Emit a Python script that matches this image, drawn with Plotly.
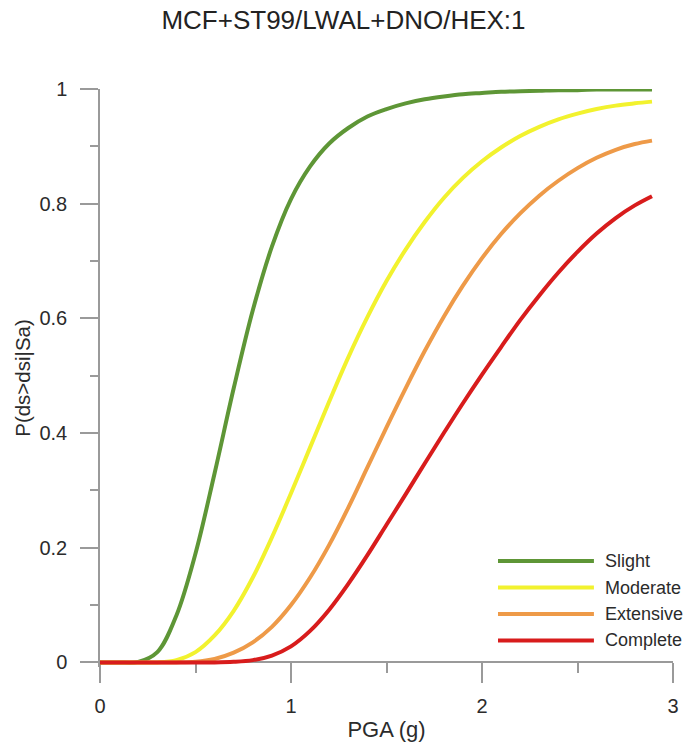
import plotly.graph_objects as go

# ---------------- data ----------------
pga = [0.0, 0.1, 0.2, 0.3, 0.4, 0.5, 0.6, 0.7, 0.8, 0.9, 1.0, 1.1, 1.2, 1.3, 1.4,
       1.5, 1.6, 1.7, 1.8, 1.9, 2.0, 2.1, 2.2, 2.3, 2.4, 2.5, 2.6, 2.7, 2.8, 2.89]

slight = [0.0, 0.0, 0.001, 0.018, 0.082, 0.19, 0.33, 0.478, 0.614, 0.725, 0.808,
          0.865, 0.905, 0.932, 0.952, 0.965, 0.975, 0.982, 0.987, 0.991, 0.993,
          0.995, 0.996, 0.997, 0.998, 0.998, 0.999, 0.999, 0.999, 0.999]

moderate = [0.0, 0.0, 0.0, 0.0, 0.004, 0.018, 0.047, 0.09, 0.148, 0.218, 0.295,
            0.375, 0.455, 0.532, 0.602, 0.665, 0.72, 0.768, 0.81, 0.845, 0.874,
            0.898, 0.918, 0.934, 0.947, 0.957, 0.965, 0.971, 0.975, 0.978]

extensive = [0.0, 0.0, 0.0, 0.0, 0.0, 0.001, 0.006, 0.017, 0.035, 0.062, 0.10,
             0.148, 0.205, 0.27, 0.34, 0.41, 0.478, 0.543, 0.603, 0.657, 0.705,
             0.747, 0.783, 0.814, 0.84, 0.862, 0.88, 0.894, 0.904, 0.910]

complete = [0.0, 0.0, 0.0, 0.0, 0.0, 0.0, 0.0, 0.001, 0.004, 0.012, 0.028, 0.055,
            0.092, 0.137, 0.187, 0.24, 0.293, 0.347, 0.40, 0.452, 0.502, 0.55,
            0.597, 0.64, 0.68, 0.716, 0.748, 0.775, 0.797, 0.813]

series_names = ["Slight", "Moderate", "Extensive", "Complete"]
series_values = [slight, moderate, extensive, complete]
series_colors = ["#5E9636", "#F2F22E", "#EE9A48", "#D81C1C"]

x_tickvals = [0, 1, 2, 3]
y_tickvals = [0, 0.2, 0.4, 0.6, 0.8, 1]
y_ticktext = ["0", "0.2", "0.4", "0.6", "0.8", "1"]

title_text = "MCF+ST99/LWAL+DNO/HEX:1"
x_title = "PGA (g)"
y_title = "P(ds>dsi|Sa)"

# ---------------- figure ----------------
FONT = "Liberation Sans, Arial, sans-serif"
AXIS_COLOR = "#9a9a9a"
TEXT_COLOR = "#2b2b2b"

fig = go.Figure()
for name, vals, col in zip(series_names, series_values, series_colors):
    fig.add_trace(go.Scatter(
        x=pga, y=vals, mode="lines", name=name,
        line=dict(color=col, width=4, shape="spline", smoothing=1.0),
        showlegend=False,
    ))

y_lo = -0.008
y_hi = 1.0
x_axis_pos = (0 - y_lo) / (y_hi - y_lo)

fig.update_layout(
    width=687, height=742,
    margin=dict(l=100, r=14, t=89, b=75),
    paper_bgcolor="white", plot_bgcolor="white",
    font=dict(family=FONT, color=TEXT_COLOR),
    title=dict(text=title_text, x=0.5, xanchor="center", xref="container",
               y=1 - 20 / 742, yanchor="middle", yref="container",
               font=dict(size=26, color="#222222", family=FONT)),
    xaxis=dict(
        range=[0, 3], anchor="free", position=x_axis_pos, automargin=False,
        showgrid=False, zeroline=False,
        showline=True, linecolor=AXIS_COLOR, linewidth=1.5,
        ticks="outside", ticklen=20, tickwidth=1.5, tickcolor=AXIS_COLOR,
        tickvals=x_tickvals, ticklabelstandoff=6,
        tickfont=dict(size=20, color=TEXT_COLOR),
        minor=dict(dtick=0.5, tick0=0, ticks="outside", ticklen=10,
                   tickwidth=1.5, tickcolor=AXIS_COLOR, showgrid=False),
        title=dict(text=x_title, standoff=5, font=dict(size=22, color=TEXT_COLOR)),
        layer="below traces",
    ),
    yaxis=dict(
        range=[y_lo, y_hi], automargin=False,
        showgrid=False, zeroline=False,
        showline=True, linecolor=AXIS_COLOR, linewidth=1.5,
        ticks="outside", ticklen=18, tickwidth=1.5, tickcolor=AXIS_COLOR,
        tickvals=y_tickvals, ticktext=y_ticktext, ticklabelstandoff=9,
        tickfont=dict(size=20, color=TEXT_COLOR),
        minor=dict(dtick=0.1, tick0=0, ticks="outside", ticklen=8,
                   tickwidth=1.5, tickcolor=AXIS_COLOR, showgrid=False),
        title=dict(text=y_title, standoff=3, font=dict(size=20.5, color=TEXT_COLOR)),
        layer="below traces",
    ),
)

# ---------------- legend (drawn in paper coordinates) ----------------
leg_x0, leg_x1, leg_tx = 0.6946, 0.862, 0.878
leg_y_top, leg_step = 0.1833, 0.0458
for i, (name, col) in enumerate(zip(series_names, series_colors)):
    yy = leg_y_top - i * leg_step
    fig.add_shape(type="line", xref="paper", yref="paper",
                  x0=leg_x0, x1=leg_x1, y0=yy, y1=yy,
                  line=dict(color=col, width=4))
    fig.add_annotation(xref="paper", yref="paper", x=leg_tx, y=yy,
                       text=name, showarrow=False, xanchor="left", yanchor="middle",
                       font=dict(size=18, color=TEXT_COLOR, family=FONT))

fig.write_html("out.html")
